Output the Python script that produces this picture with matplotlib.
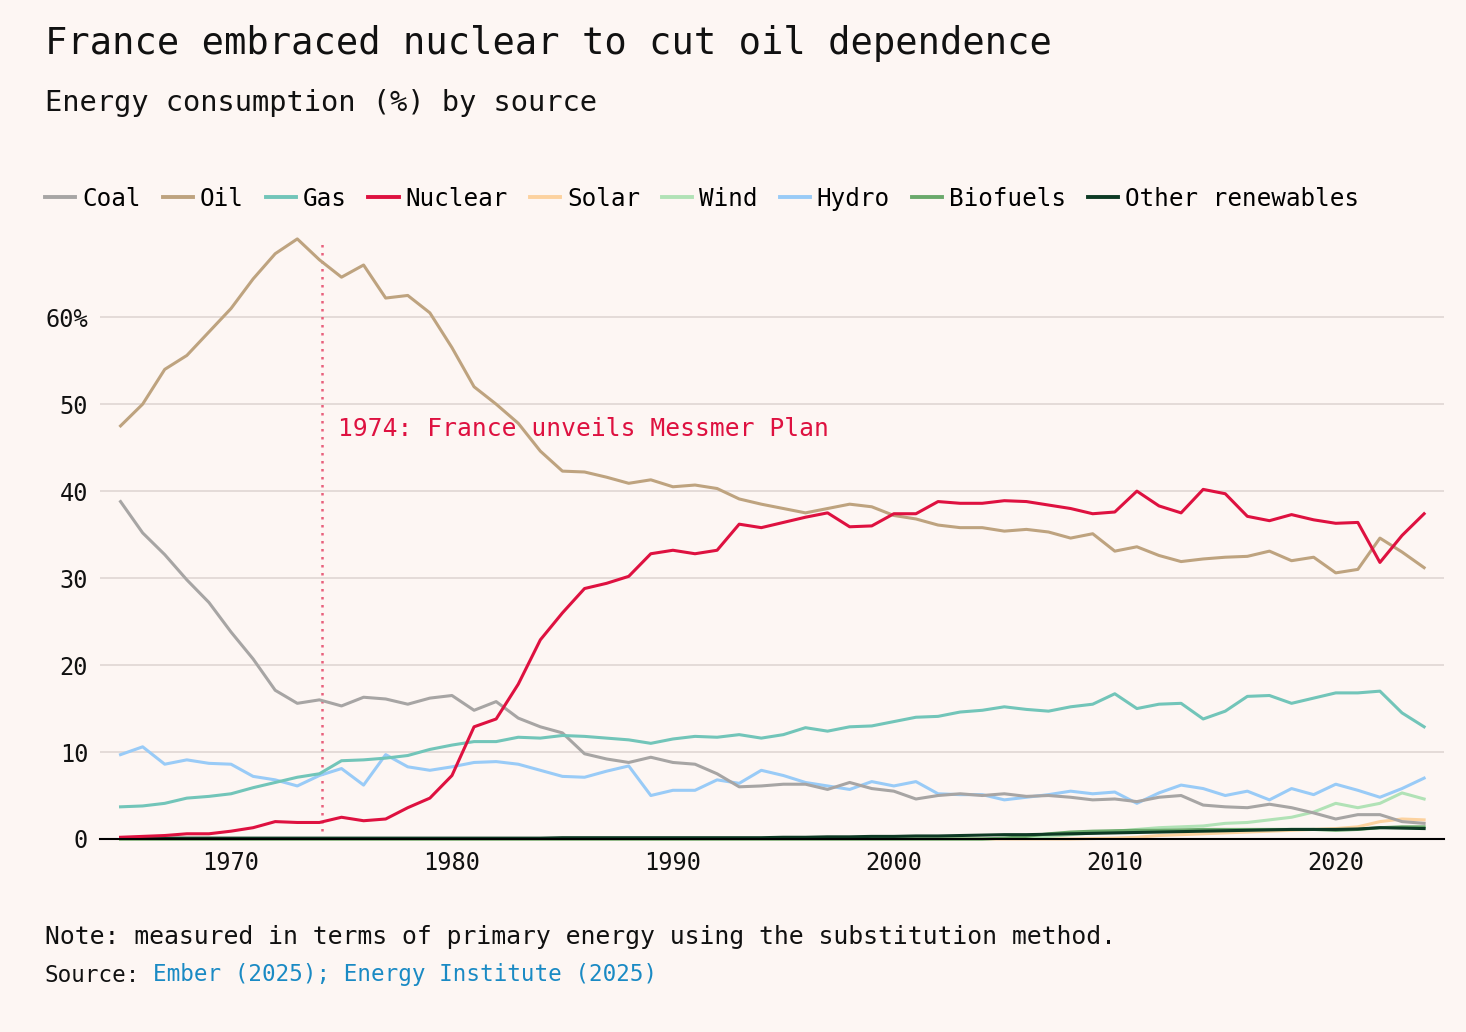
import numpy as np
import matplotlib
matplotlib.use("Agg")
import matplotlib.pyplot as plt

# datos (% de energia primaria, Francia)
years = np.arange(1965, 2025)

coal = [38.8, 35.2, 32.7, 29.8, 27.2, 23.8, 20.7, 17.1, 15.6, 16.0,
        15.3, 16.3, 16.1, 15.5, 16.2, 16.5, 14.8, 15.8, 13.9, 12.9,
        12.2, 9.8, 9.2, 8.8, 9.4, 8.8, 8.6, 7.5, 6.0, 6.1,
        6.3, 6.3, 5.7, 6.5, 5.8, 5.5, 4.6, 5.0, 5.2, 5.0,
        5.2, 4.9, 5.0, 4.8, 4.5, 4.6, 4.3, 4.8, 5.0, 3.9,
        3.7, 3.6, 4.0, 3.6, 3.0, 2.3, 2.8, 2.8, 2.0, 1.8]
oil = [47.5, 50.0, 54.0, 55.6, 58.3, 61.0, 64.4, 67.3, 69.0, 66.6,
       64.6, 66.0, 62.2, 62.5, 60.5, 56.5, 52.0, 50.0, 47.8, 44.6,
       42.3, 42.2, 41.6, 40.9, 41.3, 40.5, 40.7, 40.3, 39.1, 38.5,
       38.0, 37.5, 38.0, 38.5, 38.2, 37.2, 36.8, 36.1, 35.8, 35.8,
       35.4, 35.6, 35.3, 34.6, 35.1, 33.1, 33.6, 32.6, 31.9, 32.2,
       32.4, 32.5, 33.1, 32.0, 32.4, 30.6, 31.0, 34.6, 33.0, 31.2]
gas = [3.7, 3.8, 4.1, 4.7, 4.9, 5.2, 5.9, 6.5, 7.1, 7.5,
       9.0, 9.1, 9.3, 9.6, 10.3, 10.8, 11.2, 11.2, 11.7, 11.6,
       11.9, 11.8, 11.6, 11.4, 11.0, 11.5, 11.8, 11.7, 12.0, 11.6,
       12.0, 12.8, 12.4, 12.9, 13.0, 13.5, 14.0, 14.1, 14.6, 14.8,
       15.2, 14.9, 14.7, 15.2, 15.5, 16.7, 15.0, 15.5, 15.6, 13.8,
       14.7, 16.4, 16.5, 15.6, 16.2, 16.8, 16.8, 17.0, 14.5, 12.9]
nuclear = [0.2, 0.3, 0.4, 0.6, 0.6, 0.9, 1.3, 2.0, 1.9, 1.9,
           2.5, 2.1, 2.3, 3.6, 4.7, 7.3, 12.9, 13.8, 17.8, 22.9,
           26.0, 28.8, 29.4, 30.2, 32.8, 33.2, 32.8, 33.2, 36.2, 35.8,
           36.4, 37.0, 37.5, 35.9, 36.0, 37.4, 37.4, 38.8, 38.6, 38.6,
           38.9, 38.8, 38.4, 38.0, 37.4, 37.6, 40.0, 38.3, 37.5, 40.2,
           39.7, 37.1, 36.6, 37.3, 36.7, 36.3, 36.4, 31.8, 34.9, 37.4]
solar = [0.0] * 44 + [0.05, 0.1, 0.2, 0.4, 0.5, 0.6,
                      0.7, 0.8, 0.9, 1.0, 1.1, 1.2, 1.4, 2.0, 2.3, 2.2]
wind = [0.0] * 40 + [0.1, 0.2, 0.3, 0.5, 0.7, 0.9, 1.1, 1.3, 1.4, 1.5,
                     1.8, 1.9, 2.2, 2.5, 3.1, 4.1, 3.6, 4.1, 5.3, 4.6]
hydro = [9.7, 10.6, 8.6, 9.1, 8.7, 8.6, 7.2, 6.8, 6.1, 7.3,
         8.1, 6.2, 9.7, 8.3, 7.9, 8.3, 8.8, 8.9, 8.6, 7.9,
         7.2, 7.1, 7.8, 8.4, 5.0, 5.6, 5.6, 6.8, 6.4, 7.9,
         7.3, 6.5, 6.1, 5.7, 6.6, 6.1, 6.6, 5.2, 5.1, 5.1,
         4.5, 4.8, 5.1, 5.5, 5.2, 5.4, 4.1, 5.3, 6.2, 5.8,
         5.0, 5.5, 4.5, 5.8, 5.1, 6.3, 5.6, 4.8, 5.8, 7.0]
biofuels = [0.0] * 40 + [0.1, 0.3, 0.6, 0.8, 0.9, 0.95, 1.0, 1.0, 1.05, 1.1,
                         1.1, 1.1, 1.1, 1.1, 1.1, 1.0, 1.1, 1.3, 1.4, 1.4]
other = [0.1] * 20 + [0.15] * 10 + [0.2, 0.2, 0.25, 0.25, 0.3,
                                    0.3, 0.35, 0.35, 0.4, 0.45,
                                    0.5, 0.5, 0.55, 0.6, 0.65,
                                    0.7, 0.75, 0.8, 0.85, 0.9,
                                    0.95, 1.0, 1.05, 1.1, 1.1,
                                    1.1, 1.15, 1.3, 1.25, 1.2]

names = ["Coal", "Oil", "Gas", "Nuclear", "Solar", "Wind", "Hydro",
         "Biofuels", "Other renewables"]
colores = ["#a7a5a4", "#bea37f", "#72c5b9", "#de1140", "#fcd29f",
           "#b1e2b6", "#99cbf7", "#6aa96b", "#0d3a24"]
series = [coal, oil, gas, nuclear, solar, wind, hydro, biofuels, other]

yticks = [0, 10, 20, 30, 40, 50, 60]
ytick_labels = ["0", "10", "20", "30", "40", "50", "60%"]
xticks = [1970, 1980, 1990, 2000, 2010, 2020]

evento_anio = 1974
evento_txt = "1974: France unveils Messmer Plan"

#%%
fondo = "#fdf6f3"
plt.rcParams["font.family"] = ["DejaVu Sans Mono"]

fig = plt.figure(figsize=(14.66, 10.32), dpi=100, facecolor=fondo)
ax = fig.add_axes([100 / 1466, 1 - 839 / 1032, 1344 / 1466, 614 / 1032])
ax.set_facecolor(fondo)

# orden de dibujo: renovables abajo, las grandes arriba
orden = [4, 5, 7, 8, 6, 0, 2, 1, 3]
for i in orden:
    ax.plot(years, series[i], color=colores[i], lw=2.2, label=names[i],
            solid_joinstyle="round", clip_on=False, zorder=3 + orden.index(i) * 0.1)

ax.set_xlim(1964.07, 2024.9)
ax.set_ylim(0, 70.6)
ax.set_yticks(yticks)
ax.set_yticklabels(ytick_labels)
ax.set_xticks(xticks)
ax.tick_params(axis="both", length=0, labelsize=17, colors="#111111")
ax.tick_params(axis="y", pad=8.5)
ax.tick_params(axis="x", pad=9)
for t in ax.get_yticklabels():
    t.set_horizontalalignment("right")

ax.grid(axis="y", color="#e2d9d6", lw=1.3)
ax.set_axisbelow(True)
for s in ["top", "right", "left"]:
    ax.spines[s].set_visible(False)
ax.spines["bottom"].set_color("#000000")
ax.spines["bottom"].set_linewidth(1.5)
ax.spines["bottom"].set_zorder(5)

# linea del plan Messmer
ax.vlines(evento_anio + 0.12, 0, 68.9, colors="#e8607c", linestyles=(0, (1, 2.2)),
          lw=1.8, zorder=2)
ax.text(evento_anio + 0.82, 47.2, evento_txt, color="#de1140", fontsize=17.7,
        va="center", ha="left", zorder=6)

# titulos
fig.text(45 / 1466, 1 - 44 / 1032, "France embraced nuclear to cut oil dependence",
         fontsize=26.7, va="center", ha="left", color="#111111")
fig.text(45 / 1466, 1 - 103 / 1032, "Energy consumption (%) by source",
         fontsize=20.7, va="center", ha="left", color="#111111")

# leyenda en el orden original
handles, labels = ax.get_legend_handles_labels()
orden_leg = [labels.index(n) for n in names]
leg = fig.legend([handles[j] for j in orden_leg], [labels[j] for j in orden_leg],
                 loc="center left", bbox_to_anchor=(45 / 1466, 1 - 199 / 1032),
                 ncol=9, frameon=False, fontsize=17.5, handlelength=1.25,
                 handletextpad=0.28, columnspacing=0.9, borderpad=0,
                 borderaxespad=0)
for ln in leg.get_lines():
    ln.set_linewidth(2.8)

# notas
fig.text(45 / 1466, 1 - 937 / 1032,
         "Note: measured in terms of primary energy using the substitution method.",
         fontsize=17.8, va="center", ha="left", color="#111111")
fig.text(45 / 1466, 1 - 975 / 1032, "Source:", fontsize=16.3, va="center",
         ha="left", color="#111111")
fig.text(153 / 1466, 1 - 975 / 1032, "Ember (2025); Energy Institute (2025)",
         fontsize=16.3, va="center", ha="left", color="#1a8ac4")

fig.savefig("out.png", dpi=100, facecolor=fondo)
